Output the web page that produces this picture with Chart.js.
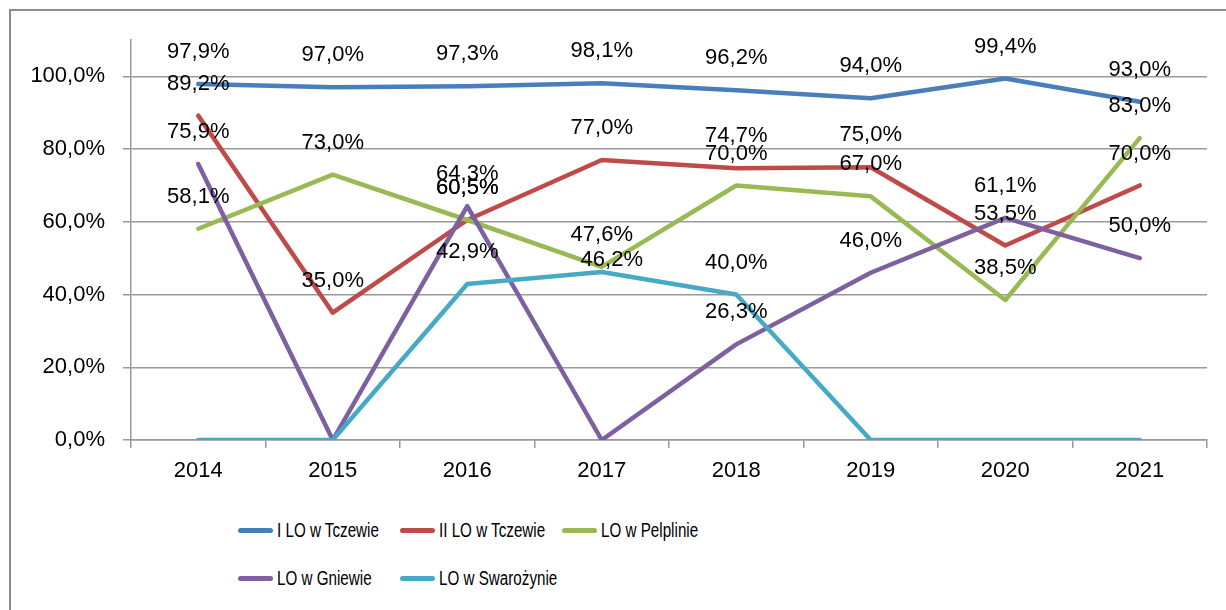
<!DOCTYPE html>
<html>
<head>
<meta charset="utf-8">
<script src="https://cdn.jsdelivr.net/npm/chart.js@4.4.0/dist/chart.umd.min.js"></script>
<style>
    body { margin: 0; background: #fff; width: 1226px; height: 610px; overflow: hidden; position: relative; font-family: "Liberation Sans", Arial, sans-serif; }
    #frame { position: absolute; left: 9px; top: 9px; width: 1240px; height: 640px; border: 2px solid #8c8c8c; }
    #chartBox { position: absolute; left: 0; top: 0; width: 1226px; height: 500px; }
    .legend-item { position: absolute; display: flex; align-items: center; height: 24px; font-family: "Liberation Sans", Arial, sans-serif; font-size: 20px; color: #000; white-space: nowrap; }
    .legend-item .swatch { width: 35px; height: 5px; border-radius: 3px; margin-right: 4px; flex: none; }
    .legend-item .name { display: inline-block; transform: scaleX(0.76); transform-origin: left center; }
</style>
</head>
<body>
<div id="frame"></div>
<div id="chartBox"><canvas id="lineChart" width="1226" height="500"></canvas></div>
<div id="legend"></div>
<script>
// ================== DATA ==================
const years = ['2014', '2015', '2016', '2017', '2018', '2019', '2020', '2021'];
const iLoTczew = [97.9, 97.0, 97.3, 98.1, 96.2, 94.0, 99.4, 93.0];
const iiLoTczew = [89.2, 35.0, 60.5, 77.0, 74.7, 75.0, 53.5, 70.0];
const loPelplin = [58.1, 73.0, 60.5, 47.6, 70.0, 67.0, 38.5, 83.0];
const loGniew = [75.9, 0, 64.3, 0, 26.3, 46.0, 61.1, 50.0];
const loSwarozyn = [0, 0, 42.9, 46.2, 40.0, 0, 0, 0];
const yTicks = [0, 20, 40, 60, 80, 100];

const seriesNames = ['I LO w Tczewie', 'II LO w Tczewie', 'LO w Pelplinie', 'LO w Gniewie', 'LO w Swarożynie'];
const seriesValues = [iLoTczew, iiLoTczew, loPelplin, loGniew, loSwarozyn];
const seriesColors = ['#4a7ebb', '#be4b48', '#98b954', '#7d60a0', '#46aac5'];

const fmtPct = v => v.toFixed(1).replace('.', ',') + '%';

// labels that were dragged by hand in the original (dataset-index: [dx, dy])
const labelNudge = { '4-3': [10, 20] };

// ================== LABELS ON POINTS ==================
const pointLabels = {
    id: 'pointLabels',
    afterDatasetsDraw(chart) {
        const ctx = chart.ctx;
        ctx.save();
        ctx.font = '22px "Liberation Sans", Arial, sans-serif';
        ctx.fillStyle = '#000';
        ctx.textAlign = 'center';
        ctx.textBaseline = 'middle';
        chart.data.datasets.forEach((ds, i) => {
            const meta = chart.getDatasetMeta(i);
            meta.data.forEach((pt, j) => {
                const v = ds.data[j];
                if (!v) return; // Excel hides the 0 labels here
                const [dx, dy] = labelNudge[`${i}-${j}`] || [0, 0];
                ctx.fillText(fmtPct(v), pt.x + dx, pt.y - 32 + dy);
            });
        });
        ctx.restore();
    }
};

// ================== CHART ==================
const datasets = seriesNames.map((name, i) => ({
    label: name,
    data: seriesValues[i],
    borderColor: seriesColors[i],
    backgroundColor: seriesColors[i],
    borderWidth: 4.5,
    borderCapStyle: 'round',
    borderJoinStyle: 'round',
    pointRadius: 0,
    tension: 0,
    order: seriesNames.length - i
}));

const gridGray = '#999999';
const tickFont = { family: '"Liberation Sans", Arial, sans-serif', size: 22 };

const lineChart = new Chart(document.getElementById('lineChart').getContext('2d'), {
    type: 'line',
    data: { labels: years, datasets: datasets },
    options: {
        responsive: false,
        animation: false,
        devicePixelRatio: 1,
        layout: { padding: { top: 40, right: 19, bottom: 0, left: 0 } },
        plugins: { legend: { display: false }, tooltip: { enabled: false } },
        scales: {
            x: {
                offset: true,
                grid: { drawOnChartArea: false, drawTicks: true, tickLength: 8, color: gridGray, lineWidth: 1.5, offset: true },
                border: { color: gridGray, width: 1.5 },
                ticks: { color: '#000', font: tickFont, padding: 10, maxRotation: 0 },
                afterFit: scale => { scale.height = 60; }
            },
            y: {
                min: 0,
                max: 110,
                afterBuildTicks: scale => { scale.ticks = yTicks.map(v => ({ value: v })); },
                grid: { color: gridGray, lineWidth: 1.5, tickLength: 8 },
                border: { color: gridGray, width: 1.5 },
                ticks: { color: '#000', font: tickFont, padding: 18, callback: v => fmtPct(v) },
                afterFit: scale => { scale.width = 131; }
            }
        }
    },
    plugins: [pointLabels]
});

// ================== LEGEND ==================
const legendBox = document.getElementById('legend');
seriesNames.forEach((name, i) => {
    const item = document.createElement('div');
    item.className = 'legend-item';
    item.style.left = (238 + (i % 3) * 162) + 'px';
    item.style.top = (518 + Math.floor(i / 3) * 48) + 'px';
    item.innerHTML = `<span class="swatch" style="background:${seriesColors[i]}"></span><span class="name">${name}</span>`;
    legendBox.appendChild(item);
});
</script>
</body>
</html>
